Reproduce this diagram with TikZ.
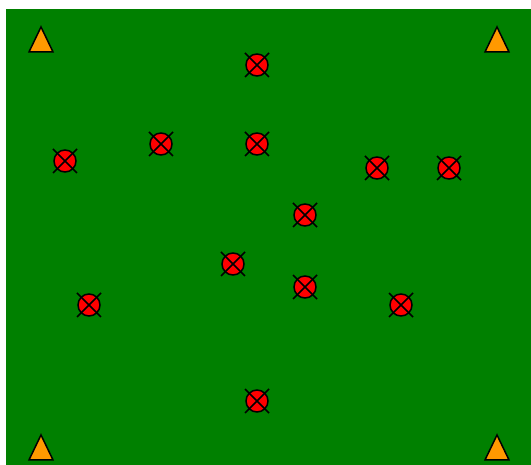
\documentclass[tikz,border=0pt]{standalone}
\usepackage{tikz}
\usetikzlibrary{shapes.geometric}
\definecolor{fieldgreen}{RGB}{0,128,0}
\definecolor{coneorange}{RGB}{255,153,0}
\tikzstyle{player} = [circle, minimum size=22pt, inner sep=0pt, draw=black, line width=1.5pt, fill=red]
\tikzstyle{cone} = [isosceles triangle, isosceles triangle stretches, shape border rotate=90, minimum width=24pt, minimum height=25pt, inner sep=0pt, draw=black, line width=1.5pt, fill=coneorange]
\tikzstyle{cross} = [line width=1.5pt, draw=black]

\begin{document}
\begin{tikzpicture}[x=1pt, y=-1pt]
    % Field
    \fill[white] (0,0) rectangle (531,465);
    \fill[fieldgreen] (6,9) rectangle (531,465);

    % Cones
    \node (c1) [cone, anchor=apex] at (41,25) {};
    \node (c2) [cone, anchor=apex] at (497,25) {};
    \node (c3) [cone, anchor=apex] at (41,433) {};
    \node (c4) [cone, anchor=apex] at (497,433) {};

    % Players
    \node (p1) [player] at (257,65) {};
    \node (p2) [player] at (161,144) {};
    \node (p3) [player] at (257,144) {};
    \node (p4) [player] at (65,161) {};
    \node (p5) [player] at (377,168) {};
    \node (p6) [player] at (449,168) {};
    \node (p7) [player] at (305,215) {};
    \node (p8) [player] at (233,264) {};
    \node (p9) [player] at (305,287) {};
    \node (p10) [player] at (89,305) {};
    \node (p11) [player] at (401,305) {};
    \node (p12) [player] at (257,401) {};

    % Crosses
    \foreach \i in {1,...,12}
        \draw [cross] ([shift={(-12,-12)}]p\i.center) -- ([shift={(12,12)}]p\i.center)
                      ([shift={(-12,12)}]p\i.center) -- ([shift={(12,-12)}]p\i.center);
\end{tikzpicture}
\end{document}
